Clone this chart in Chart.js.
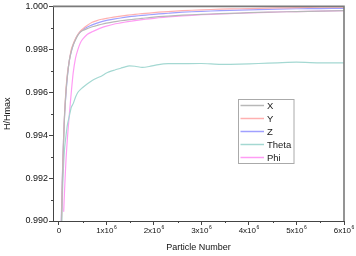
<!DOCTYPE html>
<html>
<head>
<meta charset="utf-8">
<script src="https://cdn.jsdelivr.net/npm/chart.js@4"></script>
<style>
  html, body { margin: 0; padding: 0; background: #fff; }
  canvas { display: block; }
</style>
</head>
<body>
<canvas id="c" width="356" height="256"></canvas>
<script>
// Particle numbers (x values)
const particles = [0.04e6,0.06e6,0.08e6,0.10e6,0.12e6,0.15e6,0.18e6,0.22e6,0.26e6,0.30e6,0.35e6,0.40e6,0.45e6,0.50e6,0.60e6,0.70e6,0.80e6,0.90e6,1.00e6,1.15e6,1.30e6,1.45e6,1.60e6,1.75e6,1.90e6,2.10e6,2.30e6,2.60e6,3.00e6,3.40e6,3.80e6,4.20e6,4.60e6,5.00e6,5.50e6,6.00e6];

const seriesLabels = ["X", "Y", "Z", "Theta", "Phi"];

const valuesX = [0.9885,0.9905,0.9924,0.9938,0.9950,0.9961,0.9968,0.9975,0.9979,0.9982,0.99845,0.99866,0.99880,0.99888,0.99897,0.99905,0.99911,0.99917,0.99922,0.99928,0.99933,0.99937,0.99941,0.99944,0.99948,0.99952,0.99955,0.99959,0.99963,0.99966,0.99969,0.99972,0.99974,0.99976,0.99978,0.99980];

const valuesY = [0.9888,0.9908,0.9926,0.9940,0.9951,0.9962,0.9969,0.9975,0.9980,0.99825,0.9985,0.9987,0.99885,0.99895,0.99912,0.99926,0.99934,0.99940,0.99944,0.99950,0.99955,0.99959,0.99963,0.99966,0.99969,0.99973,0.99976,0.99980,0.99984,0.99987,0.99989,0.99991,0.99993,0.99994,0.99996,0.99997];

const valuesZ = [0.9892,0.9910,0.9927,0.9940,0.9950,0.9960,0.9968,0.9975,0.9979,0.9982,0.99848,0.99868,0.99882,0.99891,0.99904,0.99914,0.99922,0.99929,0.99935,0.99941,0.99946,0.99951,0.99955,0.99958,0.99961,0.99965,0.99968,0.99973,0.99977,0.99980,0.99983,0.99985,0.99987,0.99989,0.99990,0.99991];

const valuesTheta = [0.9880,0.9900,0.9917,0.9927,0.9934,0.9940,0.9945,0.9949,0.9953,0.99547,0.99578,0.99600,0.99612,0.99622,0.99640,0.99655,0.99666,0.99676,0.99690,0.99702,0.99712,0.99722,0.99721,0.99716,0.99720,0.99729,0.99733,0.99733,0.99734,0.99730,0.99731,0.99734,0.99737,0.99740,0.99737,0.99737];

const valuesPhi = [null,null,null,0.99043,0.9915,0.9929,0.9939,0.9950,0.9960,0.9969,0.9976,0.9980,0.99830,0.99847,0.99870,0.99882,0.99892,0.99901,0.99908,0.99917,0.99923,0.99929,0.99934,0.99938,0.99942,0.99947,0.99951,0.99956,0.99961,0.99965,0.99968,0.99971,0.99974,0.99976,0.99978,0.99980];

// x tick labels: mantissa part and exponent (drawn as superscript)
const xTickValues = [0, 1e6, 2e6, 3e6, 4e6, 5e6, 6e6];
const xTickBase = ["0", "1x10", "2x10", "3x10", "4x10", "5x10", "6x10"];
const xTickExp = ["", "6", "6", "6", "6", "6", "6"];
const yMinorTicks = [0.991, 0.993, 0.995, 0.997, 0.999];
const xMinorTicks = [0.5e6, 1.5e6, 2.5e6, 3.5e6, 4.5e6, 5.5e6];

const colors = ["#b8b8b8", "#ffb0b0", "#a0a0ff", "#a4d8d2", "#ff9cf4"];
const allValues = [valuesX, valuesY, valuesZ, valuesTheta, valuesPhi];

const FONT = "'Liberation Sans', Arial, Helvetica, sans-serif";

const datasets = allValues.map((vals, i) => ({
  label: seriesLabels[i],
  data: particles.map((p, j) => ({x: p, y: vals[j]})),
  borderColor: colors[i],
  backgroundColor: colors[i],
  borderWidth: 1.2,
  pointRadius: 0,
  tension: 0.2,
  fill: false,
  spanGaps: false
}));

const framePlugin = {
  id: 'frame',
  afterDraw(chart) {
    const ctx = chart.ctx;
    const a = chart.chartArea;
    const xs = chart.scales.x, ys = chart.scales.y;
    ctx.save();
    // top and right frame lines
    ctx.strokeStyle = "#7a7a7a";
    ctx.lineWidth = 1.6;
    ctx.beginPath();
    ctx.moveTo(a.left, a.top);
    ctx.lineTo(a.right, a.top);
    ctx.lineTo(a.right, a.bottom);
    ctx.stroke();
    // minor ticks
    ctx.strokeStyle = "#444";
    ctx.lineWidth = 1;
    ctx.beginPath();
    yMinorTicks.forEach(v => {
      const py = Math.round(ys.getPixelForValue(v)) + 0.5;
      ctx.moveTo(a.left - 2, py);
      ctx.lineTo(a.left, py);
    });
    xMinorTicks.forEach(v => {
      const px = Math.round(xs.getPixelForValue(v)) + 0.5;
      ctx.moveTo(px, a.bottom);
      ctx.lineTo(px, a.bottom + 2);
    });
    ctx.stroke();
    // x tick labels with superscript exponent
    ctx.fillStyle = "#111";
    ctx.textBaseline = "alphabetic";
    ctx.textAlign = "left";
    xTickValues.forEach((v, i) => {
      const px = xs.getPixelForValue(v);
      ctx.font = "8px " + FONT;
      const wb = ctx.measureText(xTickBase[i]).width;
      ctx.font = "5px " + FONT;
      const we = xTickExp[i] ? ctx.measureText(xTickExp[i]).width + 0.5 : 0;
      const x0 = px - (wb + we) / 2;
      ctx.font = "8px " + FONT;
      ctx.fillText(xTickBase[i], x0, 233);
      if (xTickExp[i]) {
        ctx.font = "5px " + FONT;
        ctx.fillText(xTickExp[i], x0 + wb + 0.5, 229);
      }
    });
    // legend box
    const bx = 238.5, by = 99.5, bw = 55.5, bh = 64;
    ctx.fillStyle = "#fff";
    ctx.fillRect(bx, by, bw, bh);
    ctx.strokeStyle = "#aaaaaa";
    ctx.lineWidth = 1;
    ctx.strokeRect(bx, by, bw, bh);
    ctx.font = "9.5px " + FONT;
    ctx.textBaseline = "middle";
    ctx.textAlign = "left";
    chart.data.datasets.forEach((ds, i) => {
      const cy = 105.5 + i * 13;
      ctx.strokeStyle = ds.borderColor;
      ctx.lineWidth = 1.5;
      ctx.beginPath();
      ctx.moveTo(240.5, cy);
      ctx.lineTo(264, cy);
      ctx.stroke();
      ctx.fillStyle = "#1a1a1a";
      ctx.fillText(ds.label, 267, cy + 0.5);
    });
    ctx.restore();
  }
};

new Chart(document.getElementById('c'), {
  type: 'line',
  data: { datasets },
  options: {
    responsive: false,
    animation: false,
    layout: { padding: { left: 0, right: 12, top: 6, bottom: 0 } },
    plugins: { legend: { display: false }, tooltip: { enabled: false } },
    scales: {
      x: {
        type: 'linear',
        min: -0.125e6,
        max: 6e6,
        afterFit(s) { s.height = 35; },
        afterBuildTicks(s) { s.ticks = xTickValues.map(v => ({value: v})); },
        ticks: {
          autoSkip: false,
          maxRotation: 0,
          padding: 1,
          color: "rgba(0,0,0,0)",
          font: { family: FONT, size: 8 },
          callback: v => " "
        },
        grid: { display: true, drawOnChartArea: false, drawTicks: true, tickLength: 4, color: "#444" },
        border: { display: true, color: "#444", width: 1 },
        title: { display: true, text: "Particle Number", color: "#111", font: { family: FONT, size: 9 }, padding: { top: 0, bottom: 3 } }
      },
      y: {
        type: 'linear',
        min: 0.990,
        max: 1.000,
        afterFit(s) { s.width = 53; },
        ticks: {
          stepSize: 0.002,
          padding: 1,
          color: "#111",
          font: { family: FONT, size: 9 },
          callback: v => Number(v).toFixed(3)
        },
        grid: { display: true, drawOnChartArea: false, drawTicks: true, tickLength: 4, color: "#444" },
        border: { display: true, color: "#444", width: 1 },
        title: { display: true, text: "H/Hmax", color: "#111", font: { family: FONT, size: 9 }, padding: { top: 2, bottom: 0 } }
      }
    }
  },
  plugins: [framePlugin]
});
</script>
</body>
</html>
